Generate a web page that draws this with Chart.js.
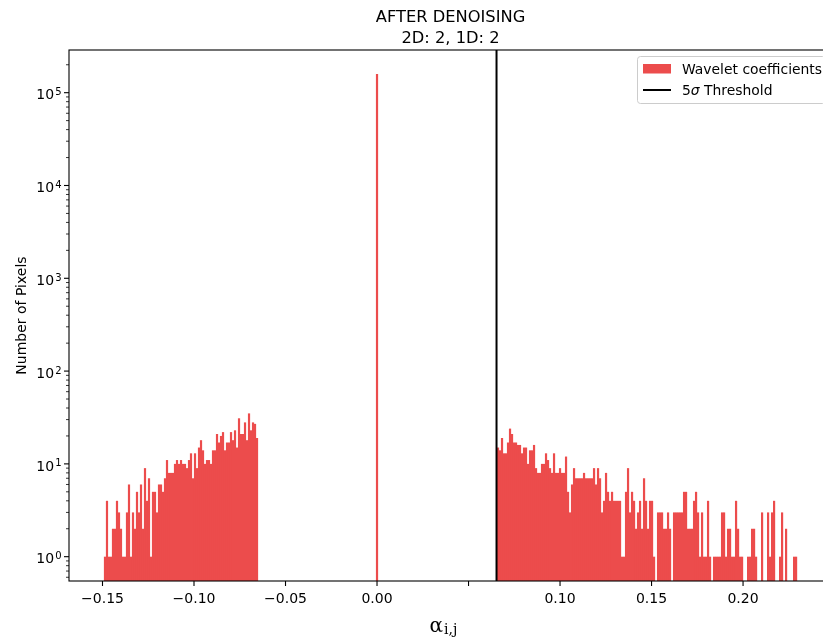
<!DOCTYPE html>
<html lang="en">
<head>
<meta charset="UTF-8" />
<title>After denoising</title>
<style>
  html, body { margin: 0; padding: 0; overflow: hidden; background: #fff; }
  .plot { position: relative; width: 832px; height: 638px; }
</style>
</head>
<body>
<div class="plot"><canvas id="hist" width="832" height="638"></canvas></div>
<script src="https://cdn.jsdelivr.net/npm/chart.js"></script>
<script>
// histogram of wavelet coefficients left after denoising
const binWidth = 0.001093;
const leftStart = -0.14918;
const leftCounts = [
  1, 4, 1, 1, 2, 2, 4, 3, 2, 1,
  1, 3, 6, 1, 3, 2, 5, 3, 6, 2,
  9, 4, 7, 1, 5, 5, 3, 6, 6, 5,
  7, 11, 8, 8, 8, 10, 11, 10, 11, 10,
  10, 9, 11, 13, 7, 13, 9, 15, 18, 14,
  10, 11, 11, 10, 14, 14, 21, 17, 20, 22,
  14, 17, 17, 22, 18, 23, 15, 31, 21, 21,
  28, 18, 35, 23, 28, 27, 19
];
const spikeCenter = 0.0;
const spikeCount = 159000;
const rightStart = 0.06557;
const rightCounts = [
  15, 14, 19, 13, 13, 17, 24, 21, 17, 17,
  16, 16, 13, 15, 15, 10, 14, 14, 16, 9,
  8, 8, 10, 10, 13, 11, 9, 8, 13, 8,
  8, 9, 8, 8, 12, 5, 3, 6, 9, 7,
  7, 7, 7, 8, 7, 7, 7, 7, 9, 6,
  9, 7, 3, 4, 8, 5, 4, 5, 4, 4,
  4, 4, 1, 1, 5, 9, 3, 5, 4, 2,
  3, 4, 2, 7, 4, 2, 4, 4, 1, 0,
  3, 3, 3, 2, 2, 3, 2, 0, 3, 3,
  3, 3, 3, 5, 5, 2, 2, 2, 4, 5,
  3, 1, 3, 1, 1, 4, 1, 0, 1, 1,
  1, 1, 3, 3, 1, 2, 2, 1, 1, 4,
  2, 1, 1, 0, 0, 1, 1, 2, 2, 1,
  0, 0, 3, 0, 0, 3, 1, 3, 4, 0,
  0, 1, 3, 0, 2, 0, 0, 0, 1, 1
];
const threshold = 0.0653;

const xMin = -0.1683, xMax = 0.2486;
const yMin = 0.547, yMax = 288400;

const xTicks = [-0.15, -0.10, -0.05, 0.0, 0.05, 0.10, 0.15, 0.20];
const xTickLabels = ["\u22120.15", "\u22120.10", "\u22120.05", "0.00", "", "0.10", "0.15", "0.20"];
const yTicks = [1, 10, 100, 1000, 10000, 100000];
const yTickExps = ["0", "1", "2", "3", "4", "5"];

const barColor = "rgb(236, 76, 76)";
const font = '"DejaVu Sans", sans-serif';

const bins = [];
function addBins(start, counts) {
  counts.forEach((c, i) => {
    if (c > 0) bins.push({ x: start + (i + 0.5) * binWidth, y: c });
  });
}
addBins(leftStart, leftCounts);
bins.push({ x: spikeCenter, y: spikeCount });
addBins(rightStart, rightCounts);

// minor log ticks: 2..9 inside each decade
const yMinor = [];
for (let e = -1; e <= 5; e++) {
  for (let m = 2; m <= 9; m++) {
    const v = m * Math.pow(10, e);
    if (v > yMin && v < yMax) yMinor.push(v);
  }
}

const frame = {
  id: "frame",
  afterDraw(chart) {
    const { ctx, chartArea: a, scales: { x, y } } = chart;
    ctx.save();
    ctx.strokeStyle = "#000";
    ctx.fillStyle = "#000";
    ctx.lineWidth = 1.1;
    ctx.strokeRect(a.left, a.top, a.right - a.left, a.bottom - a.top);

    // x ticks
    ctx.font = "14px " + font;
    ctx.textAlign = "center";
    ctx.textBaseline = "alphabetic";
    xTicks.forEach((v, i) => {
      const px = x.getPixelForValue(v);
      ctx.beginPath();
      ctx.moveTo(px, a.bottom);
      ctx.lineTo(px, a.bottom + 5);
      ctx.stroke();
      if (xTickLabels[i]) ctx.fillText(xTickLabels[i], px, a.bottom + 21.5);
    });

    // y ticks, major with 10^n labels
    yTicks.forEach((v, i) => {
      const py = y.getPixelForValue(v);
      ctx.beginPath();
      ctx.moveTo(a.left, py);
      ctx.lineTo(a.left - 5, py);
      ctx.stroke();
      ctx.textAlign = "right";
      ctx.font = "10px " + font;
      const supW = ctx.measureText(yTickExps[i]).width;
      ctx.fillText(yTickExps[i], a.left - 7.5, py + 2.5);
      ctx.font = "14px " + font;
      ctx.fillText("10", a.left - 8.5 - supW, py + 6.8);
    });
    ctx.lineWidth = 0.8;
    yMinor.forEach(v => {
      const py = y.getPixelForValue(v);
      ctx.beginPath();
      ctx.moveTo(a.left, py);
      ctx.lineTo(a.left - 3, py);
      ctx.stroke();
    });

    // title
    const cx = (a.left + a.right) / 2;
    ctx.textAlign = "center";
    ctx.font = "16.3px " + font;
    ctx.fillText("AFTER DENOISING", cx, 22);
    ctx.fillText("2D: 2, 1D: 2", cx, 43);

    // axis labels
    ctx.font = "14px " + font;
    ctx.save();
    ctx.translate(26, (a.top + a.bottom) / 2);
    ctx.rotate(-Math.PI / 2);
    ctx.fillText("Number of Pixels", 0, 0);
    ctx.restore();

    ctx.textAlign = "left";
    ctx.font = '20px "DejaVu Serif", serif';
    const alphaW = ctx.measureText("\u03b1").width;
    ctx.font = '14px "DejaVu Serif", serif';
    const subW = ctx.measureText("i,j").width;
    const lx = cx - 7 - (alphaW + subW + 1) / 2;
    ctx.font = '20px "DejaVu Serif", serif';
    ctx.fillText("\u03b1", lx, 631.5);
    ctx.font = '14px "DejaVu Serif", serif';
    ctx.fillText("i,j", lx + alphaW + 1, 634);

    // legend
    const bx = a.right - 194.5, by = 56.5;
    ctx.beginPath();
    ctx.roundRect(bx, by, 188, 47, 3);
    ctx.fillStyle = "rgba(255,255,255,0.8)";
    ctx.fill();
    ctx.strokeStyle = "#cccccc";
    ctx.lineWidth = 1;
    ctx.stroke();
    ctx.fillStyle = barColor;
    ctx.fillRect(bx + 5.5, 64, 28, 9.5);
    ctx.strokeStyle = "#000";
    ctx.lineWidth = 2;
    ctx.beginPath();
    ctx.moveTo(bx + 5.5, 90);
    ctx.lineTo(bx + 33.5, 90);
    ctx.stroke();
    ctx.fillStyle = "#000";
    ctx.font = "13.9px " + font;
    const tx = bx + 44.5;
    ctx.fillText("Wavelet coefficients", tx, 74);
    ctx.fillText("5", tx, 95);
    let w = ctx.measureText("5").width;
    ctx.font = "italic 13.9px " + font;
    ctx.fillText("\u03c3", tx + w, 95);
    w += ctx.measureText("\u03c3").width;
    ctx.font = "13.9px " + font;
    ctx.fillText(" Threshold", tx + w, 95);
    ctx.restore();
  }
};

new Chart(document.getElementById("hist"), {
  type: "bar",
  data: {
    datasets: [
      {
        type: "line",
        label: "5\u03c3 Threshold",
        data: [{ x: threshold, y: yMin }, { x: threshold, y: yMax }],
        borderColor: "#000",
        borderWidth: 2,
        pointRadius: 0,
        fill: false,
        order: 0
      },
      {
        label: "Wavelet coefficients",
        data: bins,
        backgroundColor: barColor,
        borderWidth: 0,
        barPercentage: 1.1,
        categoryPercentage: 1.0,
        order: 1
      }
    ]
  },
  options: {
    responsive: false,
    animation: false,
    devicePixelRatio: 1,
    layout: { padding: { top: 50, right: 0, bottom: 0, left: 0 } },
    plugins: { legend: { display: false }, title: { display: false }, tooltip: { enabled: false } },
    scales: {
      x: {
        type: "linear",
        min: xMin,
        max: xMax,
        offset: false,
        grid: { display: false },
        border: { display: false },
        ticks: { display: false },
        afterFit: s => { s.height = 57; }
      },
      y: {
        type: "logarithmic",
        min: yMin,
        max: yMax,
        grid: { display: false },
        border: { display: false },
        ticks: { display: false },
        afterFit: s => { s.width = 69; }
      }
    }
  },
  plugins: [frame]
});
</script>
</body>
</html>
